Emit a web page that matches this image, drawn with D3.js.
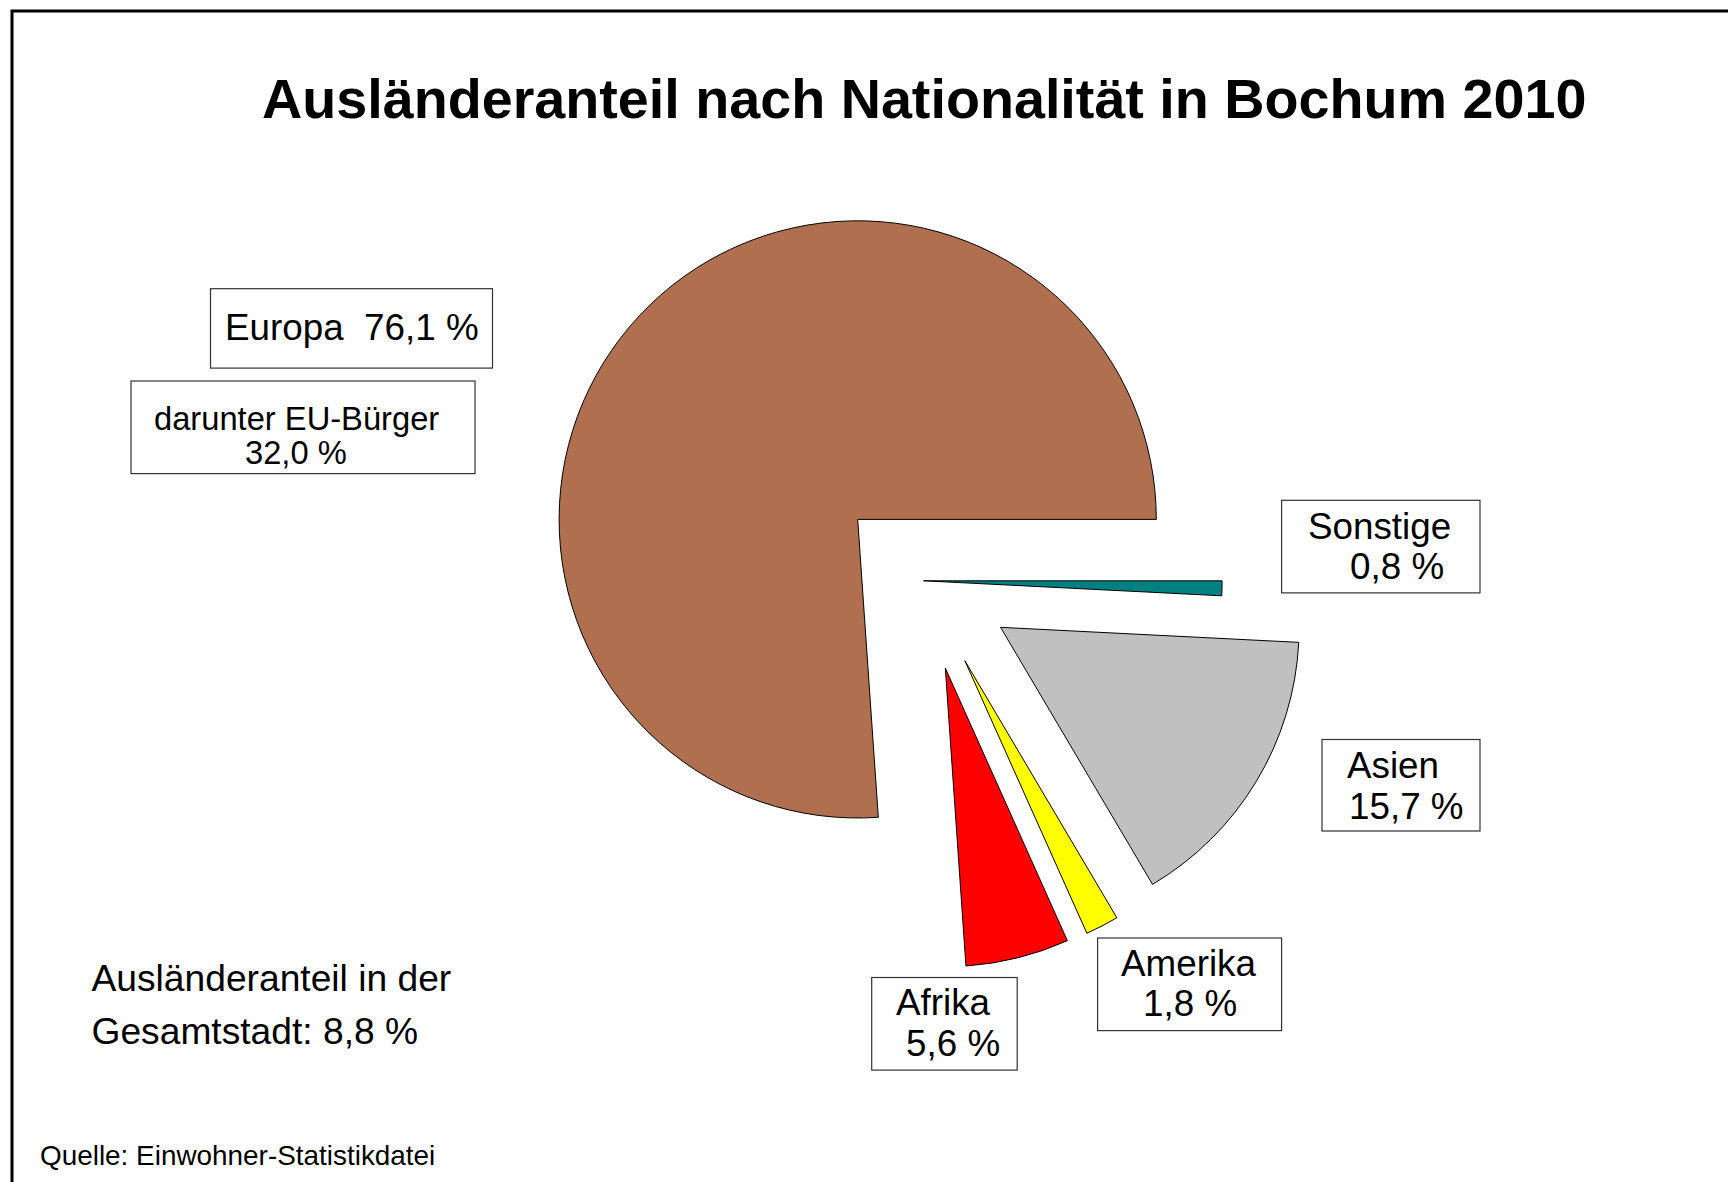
<!DOCTYPE html>
<html>
<head>
<meta charset="utf-8">
<script src="https://cdn.jsdelivr.net/npm/d3@7"></script>
<style>
  html, body { margin: 0; padding: 0; background: #fff; }
  svg { display: block; }
  text { font-family: "Liberation Sans", Arial, sans-serif; fill: #000; white-space: pre; }
</style>
</head>
<body>
<svg id="chart" width="1728" height="1182"></svg>
<script>
// ---------- data ----------
const title = "Ausländeranteil nach Nationalität in Bochum 2010";
const categories = ["Sonstige", "Asien", "Amerika", "Afrika", "Europa"];
const shares = [0.8, 15.7, 1.8, 5.6, 76.1];
const euLabel = "darunter EU-Bürger";
const euShare = 32.0;
const totalLines = ["Ausländeranteil in der", "Gesamtstadt: "];
const totalShare = 8.8;
const sourceNote = "Quelle: Einwohner-Statistikdatei";

// ---------- style / layout ----------
const colors = {
  Sonstige: "#008080",
  Asien: "#C0C0C0",
  Amerika: "#FFFF00",
  Afrika: "#FF0000",
  Europa: "#B07050"
};
const fmt = v => d3.format(".1f")(v).replace(".", ",") + " %";

const W = 1728, H = 1182;
const cx = 923.5, cy = 580.8, R = 298.6, explodeDist = 90;

const svg = d3.select("#chart");
svg.append("rect").attr("width", W).attr("height", H).attr("fill", "#fff");

// outer frame (only top and left edges visible)
svg.append("path")
  .attr("d", `M12,${H} L12,11 L${W},11`)
  .attr("fill", "none").attr("stroke", "#000").attr("stroke-width", 3);

// title
svg.append("text")
  .attr("x", 262).attr("y", 118)
  .attr("font-size", 55.7).attr("font-weight", "bold")
  .text(title);

// pie
const data = categories.map((c, i) => ({ cat: c, value: shares[i] }));
const pie = d3.pie().sort(null).value(d => d.value)
  .startAngle(Math.PI / 2).endAngle(Math.PI / 2 + 2 * Math.PI);
const arc = d3.arc().innerRadius(0).outerRadius(R);

const g = svg.append("g").attr("transform", `translate(${cx},${cy})`);
g.selectAll("path.slice")
  .data(pie(data))
  .join("path")
  .attr("class", "slice")
  .attr("d", arc)
  .attr("fill", d => colors[d.data.cat])
  .attr("stroke", "#000")
  .attr("stroke-width", 1)
  .attr("stroke-linejoin", "miter")
  .attr("transform", d => {
    const dist = d.data.cat === "Sonstige" ? 0 : explodeDist;
    const a = (d.startAngle + d.endAngle) / 2;
    return `translate(${dist * Math.sin(a)},${-dist * Math.cos(a)})`;
  });

// label boxes
const valueOf = c => shares[categories.indexOf(c)];
const boxes = [
  { box: [210.5, 288.7, 282, 79.4], lines: [{ t: "Europa  " + fmt(valueOf("Europa")), x: 225, y: 340 }] },
  { box: [131, 381, 344, 92.6], size: 32.7, lines: [{ t: euLabel, x: 154, y: 430 }, { t: fmt(euShare), x: 245, y: 464 }] },
  { box: [1281.6, 500.3, 198.4, 92.6], lines: [{ t: "Sonstige", x: 1308, y: 539 }, { t: fmt(valueOf("Sonstige")), x: 1350, y: 578.5 }] },
  { box: [1322, 739.5, 158, 91.5], lines: [{ t: "Asien", x: 1347, y: 778 }, { t: fmt(valueOf("Asien")), x: 1349, y: 819 }] },
  { box: [1097.6, 938, 184, 92.6], lines: [{ t: "Amerika", x: 1121, y: 976 }, { t: fmt(valueOf("Amerika")), x: 1143, y: 1016 }] },
  { box: [871.7, 977.5, 145.5, 92.6], lines: [{ t: "Afrika", x: 896, y: 1015 }, { t: fmt(valueOf("Afrika")), x: 906, y: 1056 }] }
];
boxes.forEach(b => {
  svg.append("rect")
    .attr("x", b.box[0]).attr("y", b.box[1])
    .attr("width", b.box[2]).attr("height", b.box[3])
    .attr("fill", "#fff").attr("stroke", "#333").attr("stroke-width", 1.2);
  b.lines.forEach(l => {
    svg.append("text").attr("x", l.x).attr("y", l.y)
      .attr("font-size", b.size || 36.8).text(l.t);
  });
});

// total share note
svg.append("text").attr("x", 91.5).attr("y", 991).attr("font-size", 37.2).text(totalLines[0]);
svg.append("text").attr("x", 91.5).attr("y", 1044).attr("font-size", 37.2).text(totalLines[1] + fmt(totalShare));

// source
svg.append("text").attr("x", 40).attr("y", 1165).attr("font-size", 27.9).text(sourceNote);
</script>
</body>
</html>
